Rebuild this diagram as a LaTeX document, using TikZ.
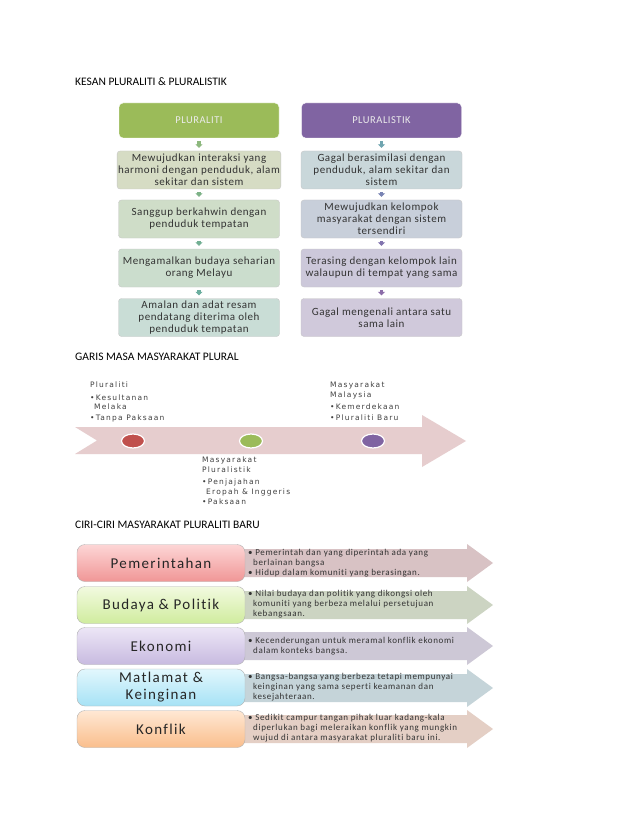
\documentclass[tikz,border=0pt]{standalone}
\usepackage{fontspec}
\setmainfont[Ligatures=NoCommon]{Carlito}
\newfontfamily\tlfont[LetterSpace=16]{DejaVu Sans}
\newfontfamily\rowfont[LetterSpace=9,Ligatures=NoCommon]{Carlito}
\newfontfamily\boxfont[LetterSpace=5,Ligatures=NoCommon]{Carlito}
\newfontfamily\notefont[LetterSpace=7,Ligatures=NoCommon]{Carlito}
\usetikzlibrary{shapes.geometric,arrows.meta}

\definecolor{plgreen}{HTML}{9BBB59}
\definecolor{plpurple}{HTML}{8064A2}
\definecolor{plred}{HTML}{C0504D}
\definecolor{tlpink}{HTML}{E6CDCE}
% kotak kesan
\definecolor{ka1}{RGB}{214,220,196}
\definecolor{ka2}{RGB}{207,221,200}
\definecolor{ka3}{RGB}{203,221,205}
\definecolor{ka4}{RGB}{201,221,214}
\definecolor{kb1}{RGB}{201,215,218}
\definecolor{kb2}{RGB}{200,207,218}
\definecolor{kb3}{RGB}{204,200,218}
\definecolor{kb4}{RGB}{208,201,219}
% anak panah kecil
\definecolor{aa1}{RGB}{141,184,126}
\definecolor{aa2}{RGB}{125,178,135}
\definecolor{aa3}{RGB}{114,175,147}
\definecolor{aa4}{RGB}{107,174,159}
\definecolor{ab1}{RGB}{111,165,176}
\definecolor{ab2}{RGB}{120,131,179}
\definecolor{ab3}{RGB}{130,116,174}
\definecolor{ab4}{RGB}{139,108,168}
% baris ciri-ciri
\definecolor{cr1}{RGB}{216,194,196}
\definecolor{cr2}{RGB}{204,212,194}
\definecolor{cr3}{RGB}{205,200,214}
\definecolor{cr4}{RGB}{197,212,217}
\definecolor{cr5}{RGB}{228,207,197}
\definecolor{ct1}{RGB}{253,214,214}\definecolor{cb1}{RGB}{240,150,150}
\definecolor{ct2}{RGB}{242,250,224}\definecolor{cb2}{RGB}{208,236,158}
\definecolor{ct3}{RGB}{236,230,246}\definecolor{cb3}{RGB}{200,186,224}
\definecolor{ct4}{RGB}{226,247,253}\definecolor{cb4}{RGB}{166,226,245}
\definecolor{ct5}{RGB}{255,232,212}\definecolor{cb5}{RGB}{250,190,140}

\tikzset{
  titletext/.style={anchor=west, inner sep=0pt, font=\fontsize{11.5}{13}\selectfont},
  headbox/.style={draw=white, rounded corners=4pt, minimum width=160pt, minimum height=35pt, text=white!92!black, font=\boxfont\fontsize{10.5}{12}\selectfont},
  effbox/.style={draw=black!22, rounded corners=3pt, minimum width=161pt, minimum height=38pt, align=center, inner sep=1pt, text=black!80, font=\boxfont\fontsize{11}{12}\selectfont},
  smallarr/.style={-{Triangle[width=7pt,length=3.5pt]}, line width=3.5pt, shorten <=3pt, shorten >=3pt},
  dot/.style={ellipse, draw=white, line width=1.2pt, minimum width=23pt, minimum height=14pt, inner sep=0pt},
  tltext/.style={anchor=north west, align=left, inner sep=0pt, text=black!75, font=\tlfont\fontsize{7.5}{9.5}\selectfont},
  rowbox/.style={draw=black!30, rounded corners=8pt, minimum width=168pt, minimum height=37pt, align=center, inner sep=1pt, text=black!85, font=\rowfont\fontsize{15}{17}\selectfont},
  rowtext/.style={anchor=west, align=left, inner sep=0pt, text=black!80, font=\notefont\fontsize{9}{9.9}\selectfont},
}

\begin{document}
\begin{tikzpicture}[x=1pt,y=-1pt]
\useasboundingbox[fill=white] (0,0) rectangle (638,826);

% kesan pluraliti & pluralistik
\node[titletext] (t1) at (75,82) {KESAN PLURALITI \& PLURALISTIK};

\node[headbox, fill=plgreen] (pa) at (199,120.5) {PLURALITI};
\node[effbox, fill=ka1] (pa1) at (199,170) {Mewujudkan interaksi yang\\harmoni dengan penduduk, alam\\sekitar dan sistem};
\node[effbox, fill=ka2] (pa2) at (199,219) {Sanggup berkahwin dengan\\penduduk tempatan};
\node[effbox, fill=ka3] (pa3) at (199,268) {Mengamalkan budaya seharian\\orang Melayu};
\node[effbox, fill=ka4] (pa4) at (199,317.5) {Amalan dan adat resam\\pendatang diterima oleh\\penduduk tempatan};

\node[headbox, fill=plpurple] (pb) at (381.5,120.5) {PLURALISTIK};
\node[effbox, fill=kb1] (pb1) at (381.5,170) {Gagal berasimilasi dengan\\penduduk, alam sekitar dan\\sistem};
\node[effbox, fill=kb2] (pb2) at (381.5,219) {Mewujudkan kelompok\\masyarakat dengan sistem\\tersendiri};
\node[effbox, fill=kb3] (pb3) at (381.5,268) {Terasing dengan kelompok lain\\walaupun di tempat yang sama};
\node[effbox, fill=kb4] (pb4) at (381.5,317.5) {Gagal mengenali antara satu\\sama lain};

\draw[smallarr, draw=aa1] (pa) -- (pa1);
\draw[smallarr, draw=aa2] (pa1) -- (pa2);
\draw[smallarr, draw=aa3] (pa2) -- (pa3);
\draw[smallarr, draw=aa4] (pa3) -- (pa4);
\draw[smallarr, draw=ab1] (pb) -- (pb1);
\draw[smallarr, draw=ab2] (pb1) -- (pb2);
\draw[smallarr, draw=ab3] (pb2) -- (pb3);
\draw[smallarr, draw=ab4] (pb3) -- (pb4);

% garis masa
\node[titletext] (t2) at (75,357) {GARIS MASA MASYARAKAT PLURAL};

\fill[tlpink] (75,427) -- (422,427) -- (422,415) -- (466,441) -- (422,467) -- (422,454) -- (75,454) -- (97,440.5) -- cycle;
\node[dot, fill=plred] (d1) at (133,441) {};
\node[dot, fill=plgreen] (d2) at (251,441) {};
\node[dot, fill=plpurple] (d3) at (373,441) {};

\node[tltext] (m1) at (90,382) {Pluraliti\\[3pt]\textbullet Kesultanan\\\hspace*{4pt}Melaka\\[1pt]\textbullet Tanpa Paksaan};
\node[tltext] (m3) at (330,382) {Masyarakat\\Malaysia\\[3pt]\textbullet Kemerdekaan\\[1pt]\textbullet Pluraliti Baru};
\node[tltext] (m2) at (202,457) {Masyarakat\\Pluralistik\\[3pt]\textbullet Penjajahan\\\hspace*{4pt}Eropah \& Inggeris\\[1pt]\textbullet Paksaan};

% ciri-ciri pluraliti baru
\node[titletext] (t3) at (75,525) {CIRI-CIRI MASYARAKAT PLURALITI BARU};

\fill[cr1] (240,549) -- (467,549) -- (467,544) -- (493,563) -- (467,582) -- (467,577) -- (240,577) -- cycle;
\fill[cr2] (240,591) -- (467,591) -- (467,586) -- (493,605) -- (467,624) -- (467,619) -- (240,619) -- cycle;
\fill[cr3] (240,632) -- (467,632) -- (467,627) -- (493,646) -- (467,665) -- (467,660) -- (240,660) -- cycle;
\fill[cr4] (240,674) -- (467,674) -- (467,669) -- (493,688) -- (467,707) -- (467,702) -- (240,702) -- cycle;
\fill[cr5] (240,715) -- (467,715) -- (467,710) -- (493,729) -- (467,748) -- (467,743) -- (240,743) -- cycle;

\node[rowbox, top color=ct1, bottom color=cb1] (c1) at (161,563) {Pemerintahan};
\node[rowbox, top color=ct2, bottom color=cb2] (c2) at (161,605) {Budaya \& Politik};
\node[rowbox, top color=ct3, bottom color=cb3] (c3) at (161,646) {Ekonomi};
\node[rowbox, top color=ct4, bottom color=cb4] (c4) at (161,687.5) {Matlamat \&\\Keinginan};
\node[rowbox, top color=ct5, bottom color=cb5] (c5) at (161,729) {Konflik};

\node[rowtext] (e1) at (248,563.5) {\textbullet\ Pemerintah dan yang diperintah ada yang\\\hspace*{5pt}berlainan bangsa\\\textbullet\ Hidup dalam komuniti yang berasingan.};
\node[rowtext] (e2) at (248,604) {\textbullet\ Nilai budaya dan politik yang dikongsi oleh\\\hspace*{5pt}komuniti yang berbeza melalui persetujuan\\\hspace*{5pt}kebangsaan.};
\node[rowtext] (e3) at (248,646) {\textbullet\ Kecenderungan untuk meramal konflik ekonomi\\\hspace*{5pt}dalam konteks bangsa.};
\node[rowtext] (e4) at (248,687) {\textbullet\ Bangsa-bangsa yang berbeza tetapi mempunyai\\\hspace*{5pt}keinginan yang sama seperti keamanan dan\\\hspace*{5pt}kesejahteraan.};
\node[rowtext] (e5) at (248,728) {\textbullet\ Sedikit campur tangan pihak luar kadang-kala\\\hspace*{5pt}diperlukan bagi meleraikan konflik yang mungkin\\\hspace*{5pt}wujud di antara masyarakat pluraliti baru ini.};
\end{tikzpicture}
\end{document}
